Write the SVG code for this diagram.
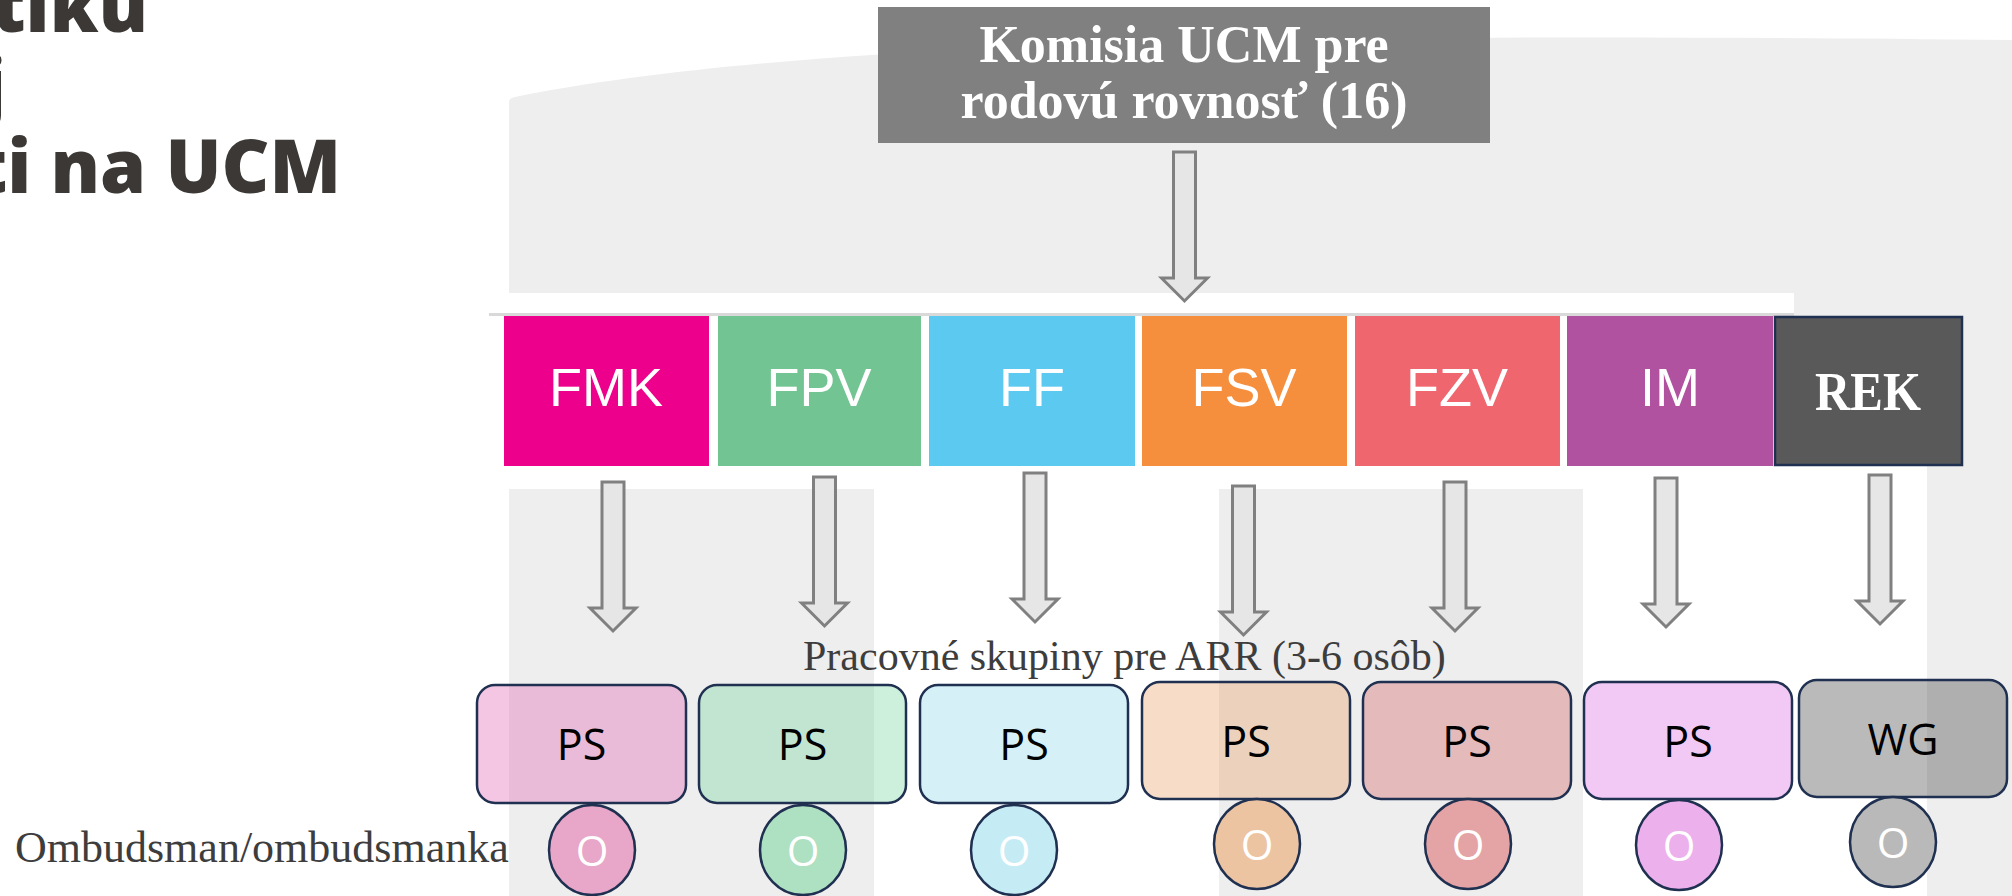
<svg xmlns="http://www.w3.org/2000/svg" xmlns:xlink="http://www.w3.org/1999/xlink" width="2012" height="896" viewBox="0 0 2012 896">
<style>
.title{font-family:"Open Sans","DejaVu Sans",sans-serif;font-weight:800;font-size:74px;fill:#3b3835;text-anchor:end}
.fac{font-family:"Liberation Sans","DejaVu Sans",sans-serif;font-size:54px;fill:#ffffff;text-anchor:middle}
.serifw{font-family:"Liberation Serif","DejaVu Serif",serif;font-weight:700;fill:#ffffff;text-anchor:middle}
.lbl{font-family:"Liberation Serif","DejaVu Serif",serif;fill:#3d3d3d}
.ps{stroke:#1f3050;stroke-width:2.5}
.pst{font-family:"Open Sans","Liberation Sans",sans-serif;font-size:43px;fill:#000000;text-anchor:middle}
.ot{font-family:"Open Sans","Liberation Sans",sans-serif;font-size:42px;fill:#ffffff;text-anchor:middle}
.arr{fill:#e6e6e6;stroke:#808080;stroke-width:3}
</style>
<defs>
<path id="blk" d="M-11,0 H11 V126 H23 L0,149 L-23,126 H-11 Z"/>
</defs>
<g id="background">
<path d="M509,293 L509,102 Q509,98 515,97 C800,40 1300,32 2012,40 L2012,896 L1927,896 L1927,466 L1794,466 L1794,293 Z" fill="#eeeeee"/>
<rect x="509" y="489" width="365" height="407" fill="#eeeeee"/>
<rect x="1219" y="489" width="364" height="407" fill="#eeeeee"/>
<rect x="489" y="313" width="1305" height="3" fill="#d9d9d9"/>
</g>
<g id="title">
<text class="title" x="148" y="32">tiku</text>
<text class="title" x="6" y="112">j</text>
<text class="title" x="341" y="193">ti na UCM</text>
</g>
<g id="komisia">
<rect x="878" y="7" width="612" height="136" fill="#808080"/>
<text class="serifw" x="1184" y="62" font-size="52">Komisia UCM pre</text>
<text class="serifw" x="1184" y="118" font-size="52">rodovú rovnosť (16)</text>
</g>
<g id="faculties">
<g id="FMK"><rect x="504" y="316" width="205" height="150" fill="#ec008c"/><text class="fac" x="606" y="406">FMK</text></g>
<g id="FPV"><rect x="718" y="316" width="203" height="150" fill="#72c493"/><text class="fac" x="819" y="406">FPV</text></g>
<g id="FF"><rect x="929" y="316" width="206" height="150" fill="#5bc9f0"/><text class="fac" x="1032" y="406">FF</text></g>
<g id="FSV"><rect x="1142" y="316" width="205" height="150" fill="#f68f3d"/><text class="fac" x="1244" y="406">FSV</text></g>
<g id="FZV"><rect x="1355" y="316" width="205" height="150" fill="#f0666f"/><text class="fac" x="1457" y="406">FZV</text></g>
<g id="IM"><rect x="1567" y="316" width="206" height="150" fill="#b0529f"/><text class="fac" x="1670" y="406">IM</text></g>
<g id="REK"><rect x="1775" y="317" width="187" height="148" fill="#595959" stroke="#1f3050" stroke-width="2.5"/><text class="serifw" x="1868" y="410" font-size="54" textLength="106" lengthAdjust="spacingAndGlyphs">REK</text></g>
</g>
<g id="connectors">
<use xlink:href="#blk" class="arr" transform="translate(1184.5,152)"/>
<use xlink:href="#blk" class="arr" transform="translate(613,482)"/>
<use xlink:href="#blk" class="arr" transform="translate(824.5,477)"/>
<use xlink:href="#blk" class="arr" transform="translate(1035,473)"/>
<use xlink:href="#blk" class="arr" transform="translate(1243.5,486)"/>
<use xlink:href="#blk" class="arr" transform="translate(1455,482)"/>
<use xlink:href="#blk" class="arr" transform="translate(1666,478)"/>
<use xlink:href="#blk" class="arr" transform="translate(1880,475)"/>
</g>
<g id="labels">
<text class="lbl" x="803" y="670" font-size="42">Pracovné skupiny pre ARR (3-6 osôb)</text>
<text class="lbl" x="15" y="862" font-size="44">Ombudsman/ombudsmanka</text>
</g>
<g id="groups">
<g id="PS1"><rect class="ps" x="477" y="685" width="209" height="118" rx="18" fill="#e05caf" fill-opacity="0.35"/><text class="pst" x="581.5" y="760">PS</text></g>
<g id="PS2"><rect class="ps" x="699" y="685" width="207" height="118" rx="18" fill="#6dd49b" fill-opacity="0.35"/><text class="pst" x="802.5" y="760">PS</text></g>
<g id="PS3"><rect class="ps" x="920" y="685" width="208" height="118" rx="18" fill="#8ad4e8" fill-opacity="0.35"/><text class="pst" x="1024" y="760">PS</text></g>
<g id="PS4"><rect class="ps" x="1142" y="682" width="208" height="117" rx="18" fill="#e89e62" fill-opacity="0.35"/><text class="pst" x="1246" y="757">PS</text></g>
<g id="PS5"><rect class="ps" x="1363" y="682" width="208" height="117" rx="18" fill="#d4595c" fill-opacity="0.35"/><text class="pst" x="1467" y="757">PS</text></g>
<g id="PS6"><rect class="ps" x="1584" y="682" width="208" height="117" rx="18" fill="#da65e2" fill-opacity="0.35"/><text class="pst" x="1688" y="757">PS</text></g>
<g id="WG"><rect class="ps" x="1799" y="680" width="208" height="117" rx="18" fill="#3a3a3a" fill-opacity="0.35"/><text class="pst" x="1903" y="755">WG</text></g>
</g>
<g id="ombudsmen">
<g id="O1"><ellipse class="ps" cx="592" cy="850" rx="43" ry="45" fill="#e8a6c8"/><text class="ot" x="592" y="866">O</text></g>
<g id="O2"><ellipse class="ps" cx="803" cy="850" rx="43" ry="45" fill="#aee0c2"/><text class="ot" x="803" y="866">O</text></g>
<g id="O3"><ellipse class="ps" cx="1014" cy="850" rx="43" ry="45" fill="#c5ecf5"/><text class="ot" x="1014" y="866">O</text></g>
<g id="O4"><ellipse class="ps" cx="1257" cy="844" rx="43" ry="45" fill="#ecc4a2"/><text class="ot" x="1257" y="860">O</text></g>
<g id="O5"><ellipse class="ps" cx="1468" cy="844" rx="43" ry="45" fill="#e4a3a4"/><text class="ot" x="1468" y="860">O</text></g>
<g id="O6"><ellipse class="ps" cx="1679" cy="845" rx="43" ry="45" fill="#ecb0ec"/><text class="ot" x="1679" y="861">O</text></g>
<g id="O7"><ellipse class="ps" cx="1893" cy="842" rx="43" ry="45" fill="#b9b9b9"/><text class="ot" x="1893" y="858">O</text></g>
</g>
</svg>
